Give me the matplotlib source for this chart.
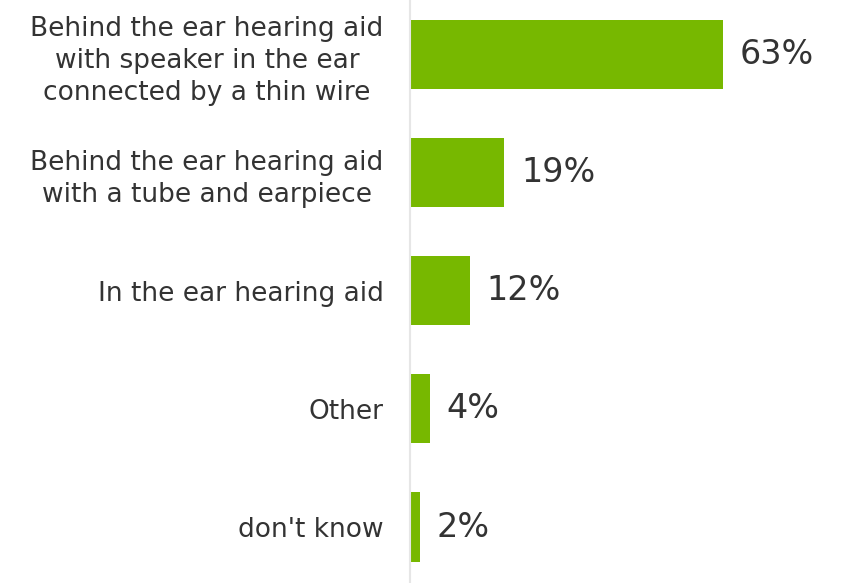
import matplotlib.pyplot as plt

# Data
categories = ['Behind the ear hearing aid\nwith speaker in the ear\nconnected by a thin wire',
              'Behind the ear hearing aid\nwith a tube and earpiece',
              'In the ear hearing aid',
              'Other',
              "don't know"]
values = [63, 19, 12, 4, 2]

fig = plt.figure(figsize=(8.41, 5.83), dpi=100)
ax = fig.add_axes([410 / 841, 0, 431 / 841, 1])

pos = range(len(categories))
bars = ax.barh(pos, values, height=0.585, color='#77b800')

ax.set_xlim(0, 86.75)
ax.set_ylim(4.474, -0.4615)

ax.set_yticks(list(pos))
ax.set_yticklabels(categories, fontsize=19, color='#333333', ha='right',
                   multialignment='center', linespacing=1.3)
ax.tick_params(axis='y', length=0, pad=19)
ax.set_xticks([])

for side in ['top', 'right', 'bottom']:
    ax.spines[side].set_visible(False)
ax.spines['left'].set_color('#e6e6e6')
ax.spines['left'].set_linewidth(1.5)

# Value labels to the right of each bar
for b, v in zip(bars, values):
    ax.annotate(f'{v}%', (b.get_width(), b.get_y() + b.get_height() / 2),
                xytext=(12, 0), textcoords='offset points',
                va='center', ha='left', fontsize=24, color='#333333')

fig.savefig('out.png', dpi=100)
